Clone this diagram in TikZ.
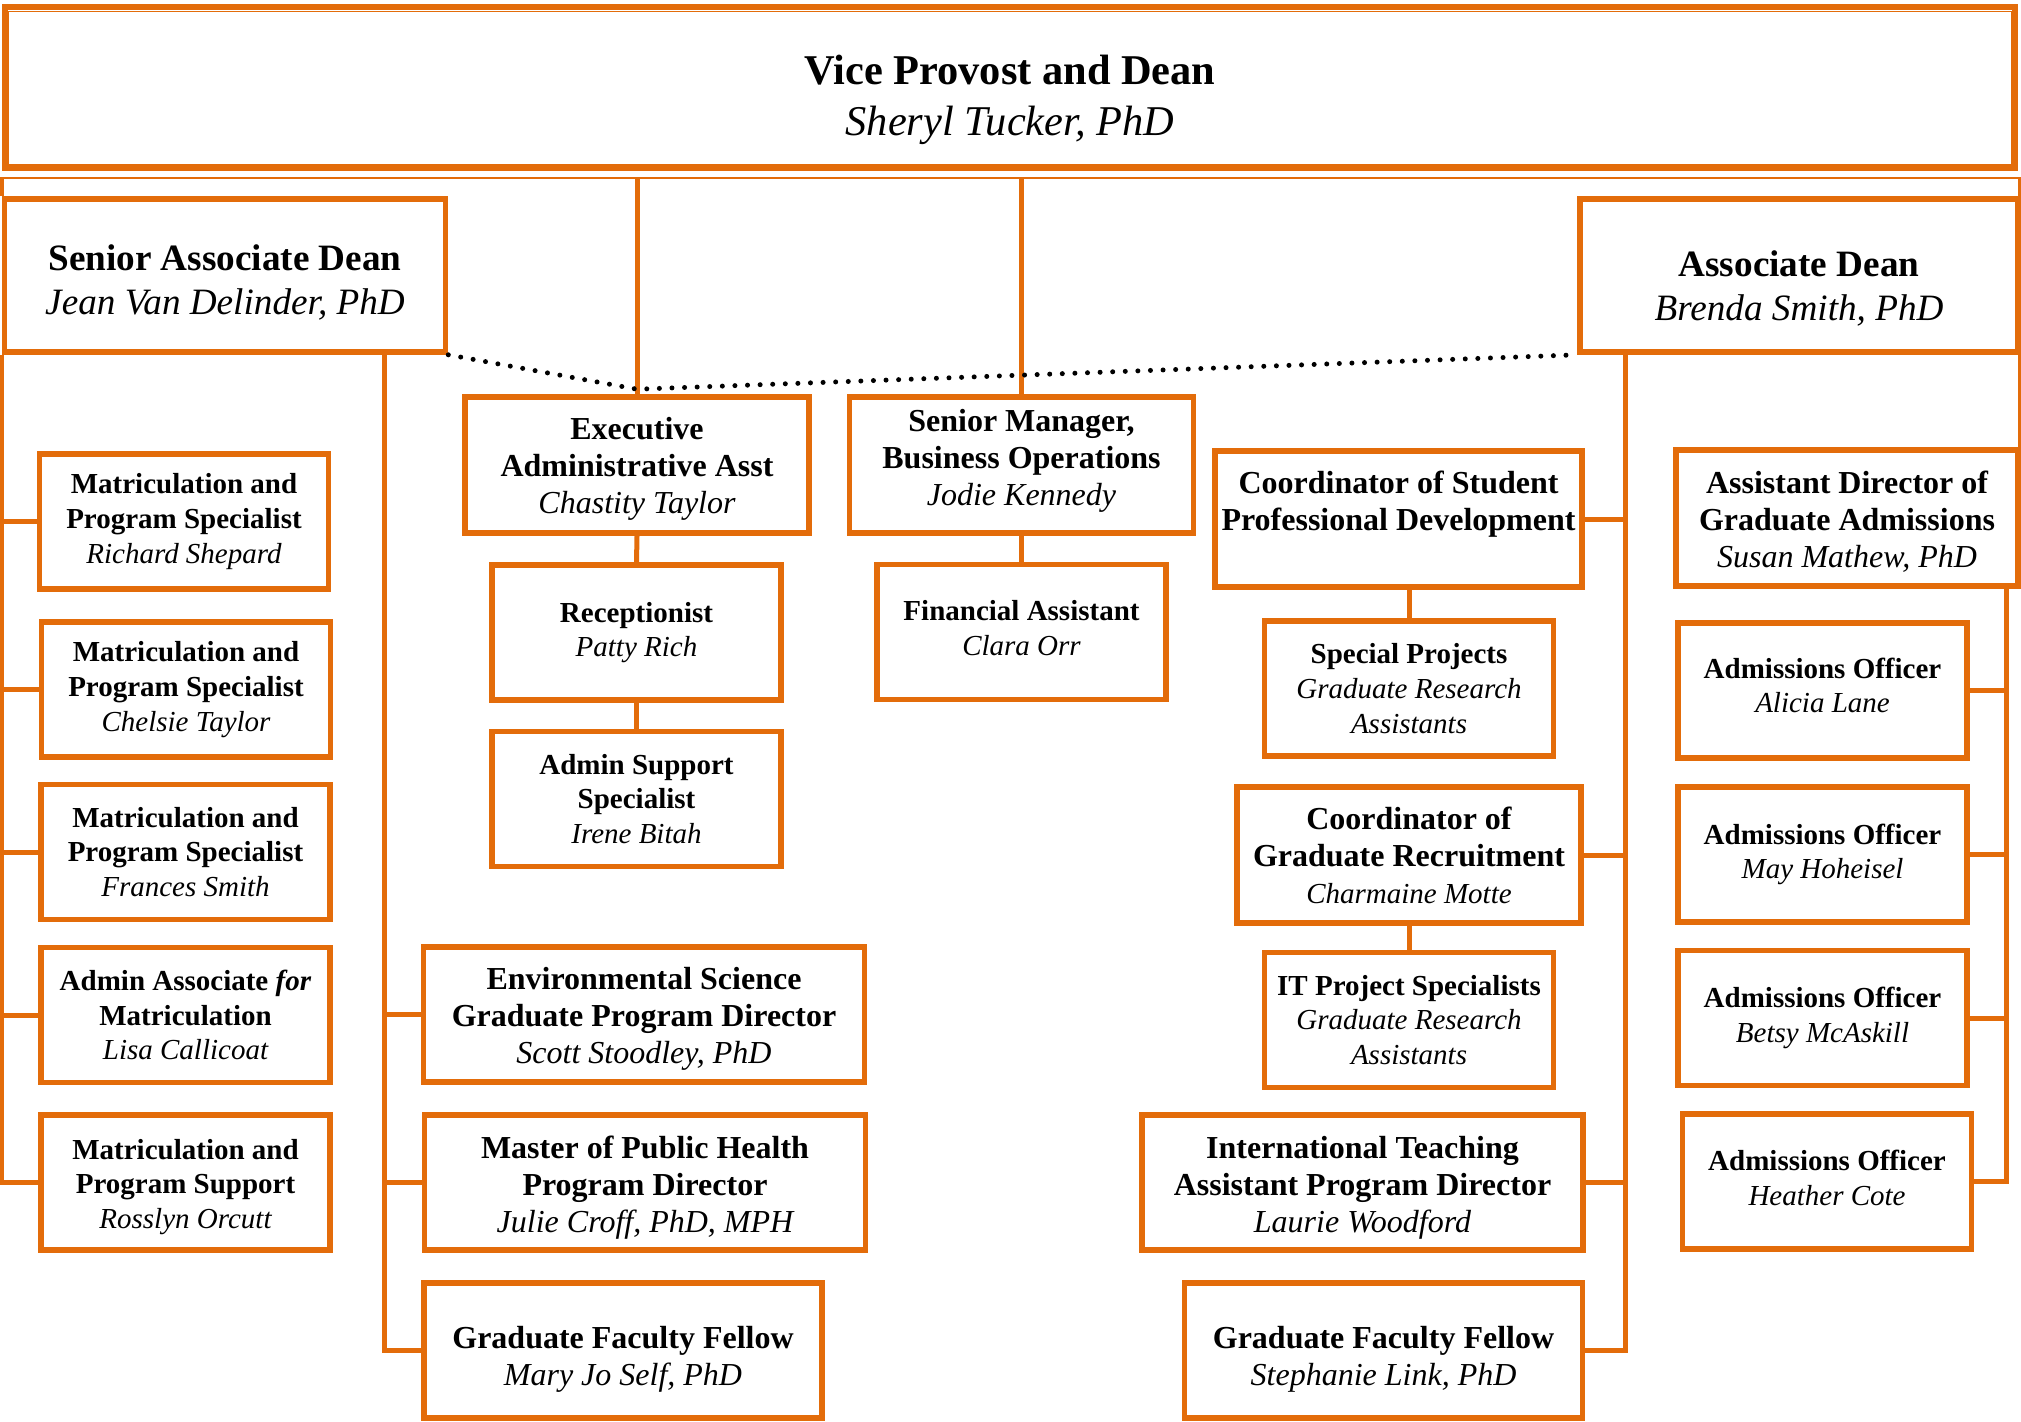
\documentclass[tikz,border=0pt]{standalone}
\usepackage{fontspec}
\setmainfont{Liberation Serif}
\usetikzlibrary{positioning}
\definecolor{orgc}{RGB}{227,108,10}
\newcommand{\fsTop}{\fontsize{21.2}{25.5}\selectfont}
\newcommand{\fsDean}{\fontsize{18.6}{22}\selectfont}
\newcommand{\fsBig}{\fontsize{16}{18.5}\selectfont}
\newcommand{\fsSmall}{\fontsize{14.5}{17.3}\selectfont}
\newcommand{\who}[1]{{\mdseries\itshape #1}}
\newcommand{\topgap}[1]{\rule{0pt}{#1}}

\begin{document}
\begin{tikzpicture}[
    x=0.5pt, y=-0.5pt,
    link/.style={%
      draw=orgc,
      line width=2.5pt,
    },
    dots/.style={%
      draw=black,
      line width=2.5pt,
      line cap=round,
      dash pattern=on 0pt off 6.3pt,
    },
    lift/.style={execute at end node={\rule[-#1]{0pt}{0pt}}},
  ]

\tikzstyle{box} = [rectangle, draw=orgc, line width=2.8pt, align=center, inner sep=0pt, font=\fsBig\bfseries]

\tikzstyle{unit} = [box, font=\fsSmall\bfseries, minimum width=144.5pt, minimum height=67.5pt]

\tikzstyle{mid} = [box, minimum width=172pt, minimum height=68pt]

\tikzstyle{wide} = [box, minimum width=220.5pt, minimum height=67.5pt]

\tikzstyle{fellow} = [box, minimum width=199pt, minimum height=67.5pt]

\tikzstyle{dean} = [box, font=\fsDean\bfseries, minimum width=220pt, minimum height=76.5pt]

    \useasboundingbox (0,0) rectangle (2021,1421);

    % vice provost, framed three times
    \node [box, font=\fsTop\bfseries, line width=2.6pt, minimum width=1005pt, minimum height=80.5pt] (VP) at (1010,87.5) {\topgap{27.3pt}Vice Provost and Dean\\\who{Sheryl Tucker, PhD}};
    \draw [orgc, line width=1pt] ([shift={(-4,-6)}]VP.north west) rectangle ([shift={(4,7)}]VP.south east);
    \draw [orgc, line width=0.9pt] ([shift={(6,7)}]VP.north west) rectangle ([shift={(-6,-6)}]VP.south east);
    \coordinate (VPb) at ([yshift=-3.5pt]VP.south);

    \node [dean, minimum width=220.5pt] (SAD) at (225,275.5) {\topgap{19.6pt}Senior Associate Dean\\\who{Jean Van Delinder, PhD}};
    \node [dean, minimum width=219pt] (AD) at (1799,275.5) {\topgap{25.6pt}Associate Dean\\\who{Brenda Smith, PhD}};

    \node [unit] (L1) at (184,521.5) {Matriculation and\\Program Specialist\\\who{Richard Shepard}};
    \node [unit] (L2) at (186,689.5) {Matriculation and\\Program Specialist\\\who{Chelsie Taylor}};
    \node [unit] (L3) at (185.5,852) {Matriculation and\\Program Specialist\\\who{Frances Smith}};
    \node [unit] (L4) at (185.5,1015) {Admin Associate \textit{for}\\Matriculation\\\who{Lisa Callicoat}};
    \node [unit] (L5) at (185.5,1182.5) {\topgap{14.3pt}Matriculation and\\Program Support\\\who{Rosslyn Orcutt}};

    \node [wide] (E1) at (644,1014.5) {\topgap{15.3pt}Environmental Science\\Graduate Program Director\\\who{Scott Stoodley, PhD}};
    \node [wide] (E2) at (645,1182.5) {\topgap{16pt}Master of Public Health\\Program Director\\\who{Julie Croff, PhD, MPH}};
    \node [fellow] (E3) at (623,1350.5) {\topgap{19.8pt}Graduate Faculty Fellow\\\who{Mary Jo Self, PhD}};

    \node [mid] (C1) at (637,465) {\topgap{15.3pt}Executive\\Administrative Asst\\\who{Chastity Taylor}};
    \node [unit] (C2) at (636.5,632.5) {Receptionist\\\who{Patty Rich}};
    \node [unit] (C3) at (636.5,799) {Admin Support\\Specialist\\\who{Irene Bitah}};

    \node [mid, lift=8pt] (S1) at (1021.5,465) {Senior Manager,\\Business Operations\\\who{Jodie Kennedy}};
    \node [unit, lift=4pt] (S2) at (1021.5,632) {Financial Assistant\\\who{Clara Orr}};

    \node [mid, minimum width=183.5pt] (R1) at (1398.5,519) {Coordinator of Student\\Professional Development\\\mbox{}};
    \node [unit] (R2) at (1409,688.5) {Special Projects\\\who{Graduate Research}\\\who{Assistants}};
    \node [mid] (R3) at (1409,855) {Coordinator of\\Graduate Recruitment\\\who{\fsSmall Charmaine Motte}};
    \node [unit] (R4) at (1409,1020) {IT Project Specialists\\\who{Graduate Research}\\\who{Assistants}};
    \node [wide] (R5) at (1362.5,1182.5) {\topgap{16pt}International Teaching\\Assistant Program Director\\\who{Laurie Woodford}};
    \node [fellow] (R6) at (1383.5,1350.5) {\topgap{19.8pt}Graduate Faculty Fellow\\\who{Stephanie Link, PhD}};

    \node [mid, minimum width=171pt] (A0) at (1847,518) {\topgap{14.8pt}Assistant Director of\\Graduate Admissions\\\who{Susan Mathew, PhD}};
    \node [unit, lift=5.2pt] (A1) at (1822.5,690.5) {Admissions Officer\\\who{Alicia Lane}};
    \node [unit] (A2) at (1822.5,854.5) {Admissions Officer\\\who{May Hoheisel}};
    \node [unit] (A3) at (1822.5,1018) {Admissions Officer\\\who{Betsy McAskill}};
    \node [unit, lift=4pt] (A4) at (1827,1181.5) {Admissions Officer\\\who{Heather Cote}};

    % down from the vice provost
    \draw [link] (SAD.north west) -- (SAD.north west |- VPb);
    \draw [link] (C1.north) -- (C1.north |- VPb);
    \draw [link] (S1.north) -- (S1.north |- VPb);
    \draw [link] (AD.north east) -- (AD.north east |- VPb);

    % senior associate dean
    \draw [link] (SAD.south west) |- (L5.west);
    \draw [link] (L1.west) -- (L1.west -| SAD.south west);
    \draw [link] (L2.west) -- (L2.west -| SAD.south west);
    \draw [link] (L3.west) -- (L3.west -| SAD.south west);
    \draw [link] (L4.west) -- (L4.west -| SAD.south west);
    \coordinate (sadB) at (384,352);
    \draw [link] (sadB) |- (E3.west);
    \draw [link] (E1.west) -- (E1.west -| sadB);
    \draw [link] (E2.west) -- (E2.west -| sadB);

    \draw [link] (C1.south) -- (C2.north);
    \draw [link] (C2.south) -- (C3.north);
    \draw [link] (S1.south) -- (S2.north);

    % associate dean
    \coordinate (adB) at (1625,352);
    \draw [link] (adB) |- (R6.east);
    \draw [link] (R1.east) -- (R1.east -| adB);
    \draw [link] (R3.east) -- (R3.east -| adB);
    \draw [link] (R5.east) -- (R5.east -| adB);
    \draw [link] (R2.north) -- (R2.north |- R1.south);
    \draw [link] (R3.south) -- (R4.north);
    \draw [link] (AD.south east) -- (A0.north east);
    \coordinate (a0B) at (2006,585);
    \draw [link] (a0B) |- (A4.east);
    \draw [link] (A1.east) -- (A1.east -| a0B);
    \draw [link] (A2.east) -- (A2.east -| a0B);
    \draw [link] (A3.east) -- (A3.east -| a0B);

    % dotted tie between the deans
    \draw [dots] (SAD.south east) -- ([yshift=2.5pt]C1.north) -- (AD.south west);
\end{tikzpicture}
\end{document}
